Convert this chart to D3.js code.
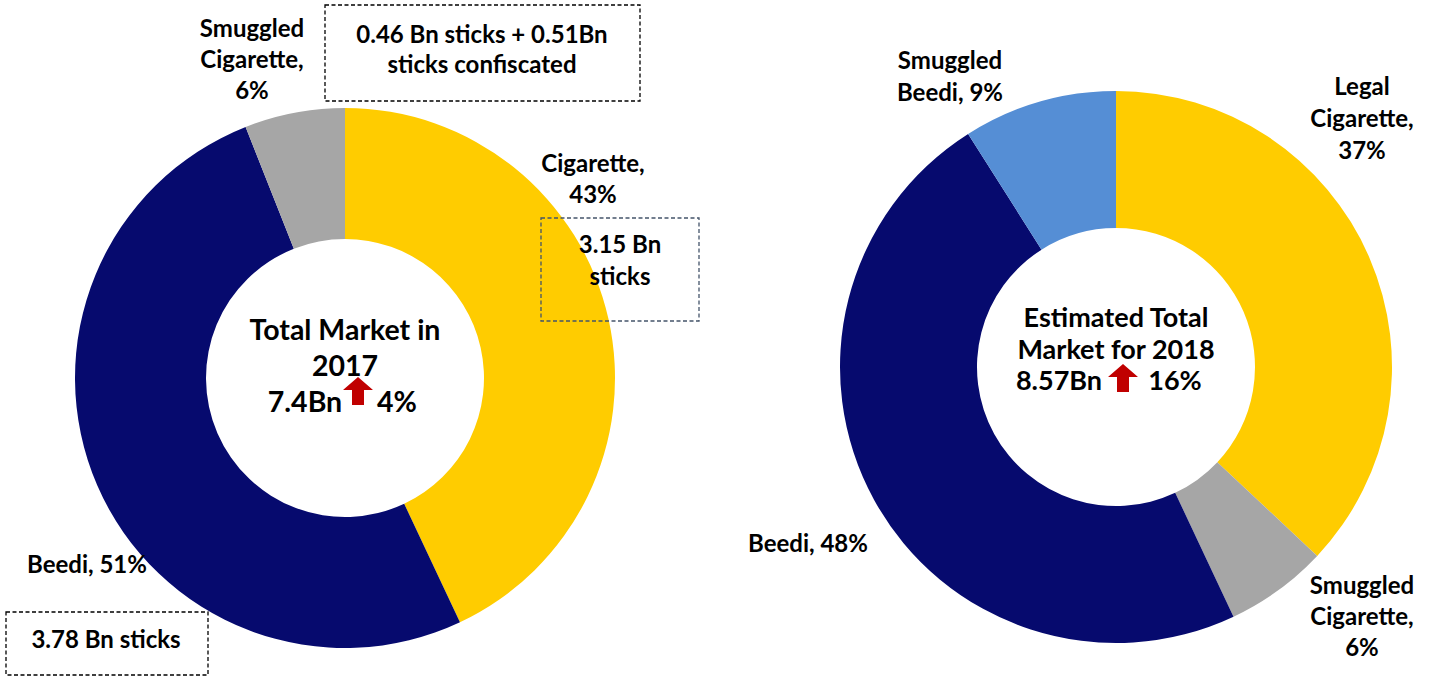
<!DOCTYPE html>
<html>
<head>
<meta charset="utf-8">
<script src="https://cdnjs.cloudflare.com/ajax/libs/d3/7.8.5/d3.min.js"></script>
<style>
  body { margin: 0; background: #fff; }
  text { font-family: Lato, "Open Sans", sans-serif; font-weight: bold; fill: #000; }
</style>
</head>
<body>
<svg id="drawing_region"></svg>
<script>
// data
const categories2017 = ['Cigarette', 'Beedi', 'Smuggled Cigarette'];
const values2017 = [43, 51, 6];
const colors2017 = ['#FFCC00', '#060A6E', '#A6A6A6'];

const categories2018 = ['Legal Cigarette', 'Smuggled Cigarette', 'Beedi', 'Smuggled Beedi'];
const values2018 = [37, 6, 48, 9];
const colors2018 = ['#FFCC00', '#A6A6A6', '#060A6E', '#558ED5'];

const centerText2017 = ['Total Market in', '2017'];
const centerText2018 = ['Estimated Total', 'Market for 2018'];
const total2017 = '7.4Bn', growth2017 = '4%';
const total2018 = '8.57Bn', growth2018 = '16%';

const W = 1434, H = 677;
const svg = d3.select('#drawing_region').attr('width', W).attr('height', H);

function donut(cx, cy, outerR, innerR, values, colors) {
    const pie = d3.pie().sort(null).value(d => d);
    const arc = d3.arc().innerRadius(innerR).outerRadius(outerR);
    const g = svg.append('g').attr('transform', `translate(${cx}, ${cy})`);
    g.selectAll('path')
        .data(pie(values))
        .join('path')
        .attr('d', arc)
        .attr('fill', (d, i) => colors[i]);
    return g;
}

function label(x, y, lines, lh, size) {
    const t = svg.append('text')
        .attr('text-anchor', 'middle')
        .style('font-size', (size || 24) + 'px');
    lines.forEach((s, i) => {
        t.append('tspan').attr('x', x).attr('y', y + i * lh).text(s);
    });
}

function box(x, y, w, h, color) {
    svg.append('rect')
        .attr('x', x).attr('y', y).attr('width', w).attr('height', h)
        .attr('fill', 'none')
        .attr('stroke', color)
        .attr('stroke-width', 1.3)
        .attr('stroke-dasharray', '4,2.5');
}

function arrow(x, y) {
    // x = center, y = tip
    const p = [[0, 0], [15, 13], [6, 13], [6, 28], [-6, 28], [-6, 13], [-15, 13]];
    svg.append('path')
        .attr('d', d3.line()(p.map(q => [x + q[0], y + q[1]])) + 'Z')
        .attr('fill', '#C00000');
}

// left donut
donut(345, 378, 270, 139, values2017, colors2017);
label(345, 340, centerText2017, 36, 28.5);
label(305, 412, [total2017], 0, 28.5);
label(397, 412, [growth2017], 0, 28.5);
arrow(358, 377);

label(252, 37, ['Smuggled', 'Cigarette,', values2017[2] + '%'], 31);
label(593, 172, ['Cigarette,', values2017[0] + '%'], 31);
label(87, 573, ['Beedi, ' + values2017[1] + '%'], 0);

box(325, 5, 315, 96, '#000');
label(482, 43, ['0.46 Bn sticks + 0.51Bn', 'sticks confiscated'], 30);
box(541, 218, 158, 103, '#44546A');
label(620, 253, ['3.15 Bn', 'sticks'], 32);
box(6, 612, 202, 63, '#000');
label(106, 648, ['3.78 Bn sticks'], 0);

// right donut
donut(1116, 367, 276, 139, values2018, colors2018);
label(1116, 327, centerText2018, 31.5, 27);
label(1059, 390, [total2018], 0, 27);
label(1175, 390, [growth2018], 0, 27);
arrow(1123, 364);

label(950, 69, ['Smuggled', 'Beedi, ' + values2018[3] + '%'], 32);
label(1362, 95, ['Legal', 'Cigarette,', values2018[0] + '%'], 32);
label(808, 552, ['Beedi, ' + values2018[2] + '%'], 0);
label(1362, 594, ['Smuggled', 'Cigarette,', values2018[1] + '%'], 31);
</script>
</body>
</html>
